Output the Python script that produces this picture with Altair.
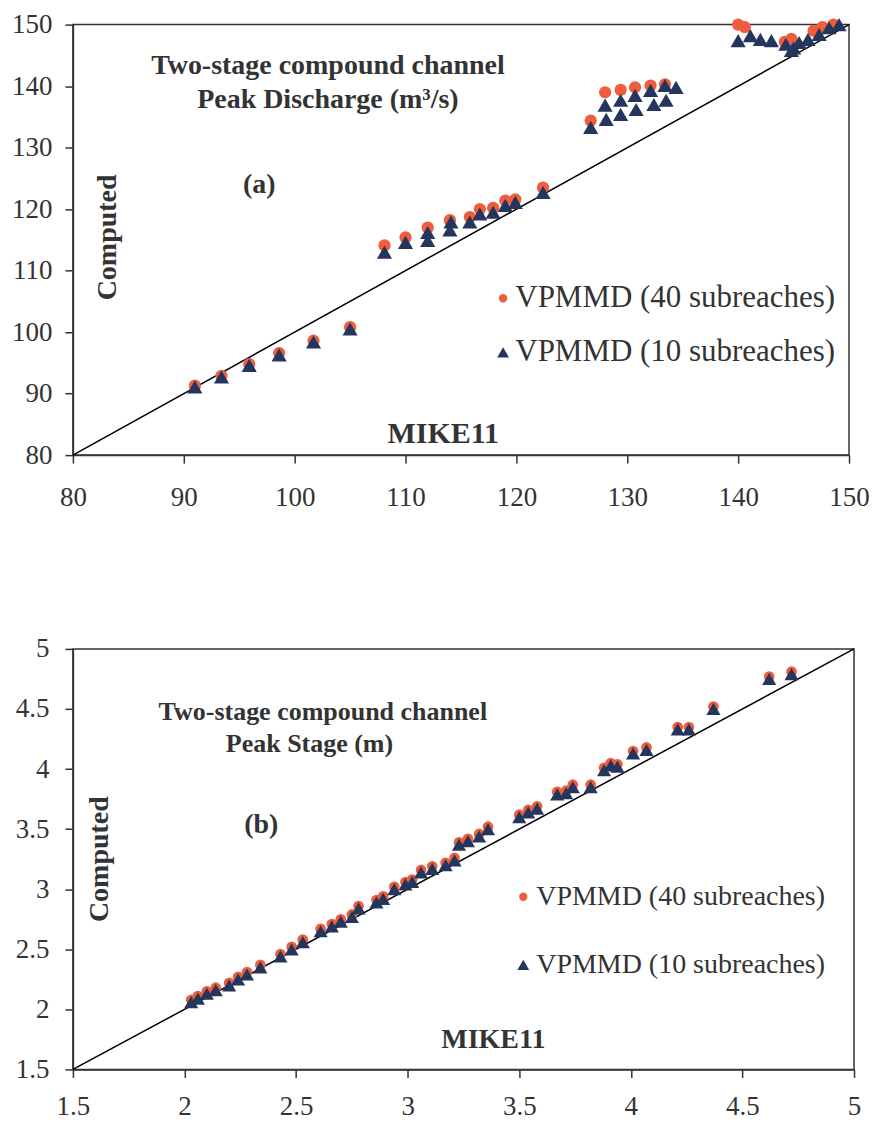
import altair as alt
import pandas as pd

# ---- Peak discharge (m3/s): MIKE11 vs computed ----
q_mike_40 = [91.0, 93.4, 95.9, 98.6, 101.7, 105.0,
             108.1, 110.0, 112.0, 114.0, 115.8, 116.7, 117.9, 119.0, 119.9, 122.4,
             126.7, 128.0, 129.4, 130.7, 132.1, 133.4,
             140.0, 140.6, 144.2, 144.8, 146.8, 147.6, 148.6]
q_comp_40 = [91.3, 92.9, 94.8, 96.6, 98.6, 100.8,
             114.1, 115.4, 117.0, 118.2, 118.7, 120.0, 120.2, 121.4, 121.6, 123.5,
             134.4, 139.0, 139.4, 139.8, 140.1, 140.3,
             150.0, 149.6, 147.2, 147.7, 149.0, 149.6, 150.0]

q_mike_10 = [91.0, 93.4, 95.9, 98.6, 101.7, 105.0,
             108.1, 110.0, 112.0, 112.0, 114.0, 114.1, 115.8, 116.7, 117.9, 119.0, 119.9, 122.4,
             126.7, 128.1, 128.0, 129.4, 129.4, 130.8, 130.7, 132.4, 132.1, 133.5, 133.4, 134.4,
             140.0, 141.1, 142.0, 143.0, 144.3, 144.8, 145.0, 145.5, 146.3, 147.3, 148.2, 149.1]
q_comp_10 = [91.1, 92.7, 94.6, 96.3, 98.4, 100.5,
             113.0, 114.6, 114.9, 116.2, 116.6, 117.9, 117.9, 119.2, 119.5, 120.6, 121.1, 122.7,
             133.3, 134.6, 136.9, 135.4, 137.7, 136.2, 138.5, 137.0, 139.3, 137.7, 140.1, 139.8,
             147.4, 148.2, 147.6, 147.4, 146.8, 145.8, 146.2, 147.1, 147.6, 148.4, 149.5, 150.0]

# ---- Peak stage (m): MIKE11 vs computed ----
h_mike = [2.03, 2.06, 2.10, 2.14, 2.20, 2.24, 2.28, 2.34, 2.43, 2.48,
          2.53, 2.61, 2.66, 2.70, 2.75, 2.78, 2.86, 2.89, 2.94, 2.99,
          3.02, 3.06, 3.11, 3.17, 3.21, 3.23, 3.27, 3.32, 3.36, 3.50,
          3.54, 3.58, 3.67, 3.71, 3.74, 3.82, 3.88, 3.91, 3.94, 4.01,
          4.07, 4.21, 4.26, 4.37, 4.62, 4.72]
h_comp_40 = [2.08, 2.11, 2.15, 2.18, 2.22, 2.27, 2.31, 2.37, 2.46, 2.52,
             2.58, 2.67, 2.71, 2.75, 2.79, 2.86, 2.91, 2.94, 3.02, 3.06,
             3.08, 3.16, 3.19, 3.22, 3.26, 3.39, 3.42, 3.46, 3.52, 3.62,
             3.66, 3.69, 3.81, 3.82, 3.87, 3.87, 4.01, 4.05, 4.04, 4.15,
             4.18, 4.35, 4.35, 4.52, 4.77, 4.81]
h_comp_10 = [2.06, 2.09, 2.13, 2.16, 2.20, 2.25, 2.29, 2.35, 2.44, 2.50,
             2.56, 2.65, 2.69, 2.73, 2.77, 2.84, 2.89, 2.92, 3.00, 3.04,
             3.06, 3.14, 3.17, 3.20, 3.24, 3.37, 3.40, 3.44, 3.50, 3.60,
             3.64, 3.67, 3.79, 3.80, 3.85, 3.85, 3.99, 4.03, 4.02, 4.13,
             4.16, 4.33, 4.33, 4.50, 4.75, 4.79]

q_ticks = [80, 90, 100, 110, 120, 130, 140, 150]
h_ticks = [1.5, 2, 2.5, 3, 3.5, 4, 4.5, 5]

label_40 = "VPMMD (40 subreaches)"
label_10 = "VPMMD (10 subreaches)"

FONT = "Liberation Serif"
INK = "#333333"
NAVY = "#24365e"
RED = "#ef5d3d"


def panel(mike40, comp40, mike10, comp10, ticks, fmt, width, height,
          lab_pad_y, lab_pad_x, pt_sizes, ann):
    lo, hi = ticks[0], ticks[-1]
    xs = alt.Scale(domain=[lo, hi], nice=False, zero=False)
    ys = alt.Scale(domain=[lo, hi], nice=False, zero=False)
    common = dict(values=ticks, grid=False, title=None, format=fmt,
                  labelFont=FONT, labelFontSize=27, labelColor=INK,
                  domainColor=INK, domainWidth=1.5, tickColor=INK,
                  tickWidth=1.5, tickSize=8)
    x_ax = alt.Axis(labelPadding=lab_pad_x, labelFlush=False, **common)
    y_ax = alt.Axis(labelPadding=lab_pad_y, **common)

    diag = alt.Chart(pd.DataFrame({"a": [lo, hi], "b": [lo, hi]})).mark_line(
        color="black", strokeWidth=1.5
    ).encode(x=alt.X("a:Q", scale=xs, axis=x_ax), y=alt.Y("b:Q", scale=ys, axis=y_ax))

    s40 = alt.Chart(pd.DataFrame({"a": mike40, "b": comp40})).mark_point(
        shape="circle", filled=True, opacity=1, color=RED, size=pt_sizes[0]
    ).encode(x=alt.X("a:Q", scale=xs), y=alt.Y("b:Q", scale=ys))

    s10 = alt.Chart(pd.DataFrame({"a": mike10, "b": comp10})).mark_point(
        shape="triangle-up", filled=True, opacity=1, color=NAVY, size=pt_sizes[1]
    ).encode(x=alt.X("a:Q", scale=xs), y=alt.Y("b:Q", scale=ys))

    # legend entries drawn inside the plot area
    lg = ann["legend"]
    key40 = alt.Chart(pd.DataFrame({"a": [lg[0]], "b": [lg[2]]})).mark_point(
        shape="circle", filled=True, opacity=1, color=RED, size=70
    ).encode(x=alt.X("a:Q", scale=xs), y=alt.Y("b:Q", scale=ys))
    key10 = alt.Chart(pd.DataFrame({"a": [lg[0]], "b": [lg[3]]})).mark_point(
        shape="triangle-up", filled=True, opacity=1, color=NAVY, size=140
    ).encode(x=alt.X("a:Q", scale=xs), y=alt.Y("b:Q", scale=ys))
    key_text = alt.Chart(pd.DataFrame({
        "a": [lg[1], lg[1]], "b": [lg[2], lg[3]], "t": [label_40, label_10]
    })).mark_text(
        font=FONT, fontSize=ann["legend_size"], color=INK, align="left", baseline="middle"
    ).encode(x=alt.X("a:Q", scale=xs), y=alt.Y("b:Q", scale=ys), text="t:N")

    bold = alt.Chart(pd.DataFrame(ann["bold"], columns=["a", "b", "t", "s"])).mark_text(
        font=FONT, fontWeight="bold", color=INK, align="center", baseline="middle"
    ).encode(
        x=alt.X("a:Q", scale=xs), y=alt.Y("b:Q", scale=ys), text="t:N",
        size=alt.Size("s:Q", scale=None, legend=None),
    )

    yt = ann["ytitle"]
    ytitle = alt.Chart(pd.DataFrame({"a": [yt[0]], "b": [yt[1]], "t": ["Computed"]})).mark_text(
        font=FONT, fontSize=28, fontWeight="bold", color=INK, angle=270,
        align="center", baseline="middle"
    ).encode(x=alt.X("a:Q", scale=xs), y=alt.Y("b:Q", scale=ys), text="t:N")

    return alt.layer(diag, s40, s10, key40, key10, key_text, bold, ytitle).properties(
        width=width, height=height
    )


top = panel(
    q_mike_40, q_comp_40, q_mike_10, q_comp_10, q_ticks, "d", 777, 431, 13, 21, (150, 230),
    {
        "legend": (118.8, 119.9, 105.5, 96.7),
        "legend_size": 31,
        "bold": [
            (103.0, 143.3, "Two-stage compound channel", 28),
            (103.0, 137.7, "Peak Discharge (m³/s)", 28),
            (96.8, 123.9, "(a)", 28),
            (113.4, 83.4, "MIKE11", 30),
        ],
        "ytitle": (83.2, 115.4),
    },
)

bottom = panel(
    h_mike, h_comp_40, h_mike, h_comp_10, h_ticks, "~g", 782, 421, 16, 16, (115, 200),
    {
        "legend": (3.518, 3.576, 2.937, 2.371),
        "legend_size": 28,
        "bold": [
            (2.62, 4.476, "Two-stage compound channel", 26),
            (2.56, 4.21, "Peak Stage (m)", 26),
            (2.344, 3.536, "(b)", 28),
            (3.384, 1.747, "MIKE11", 28),
        ],
        "ytitle": (1.62, 3.25),
    },
)

chart = alt.concat(top, bottom, columns=1, spacing=123).properties(
    padding={"left": 10, "top": 9, "right": 5, "bottom": 2},
    background="white",
).configure_view(stroke=INK, strokeWidth=1.5)

chart.save("out.html", embed_options={"renderer": "svg", "actions": False})
